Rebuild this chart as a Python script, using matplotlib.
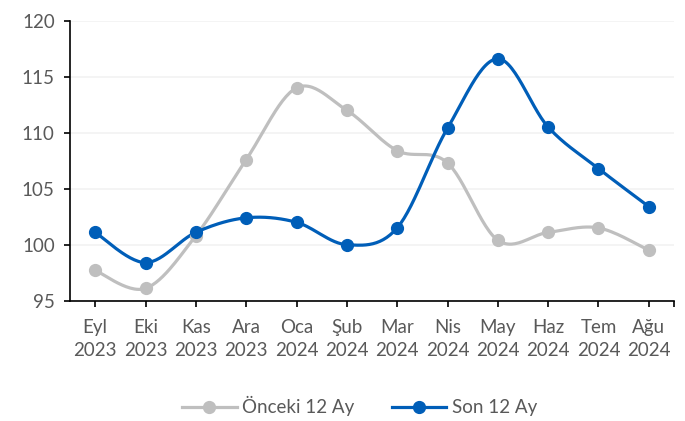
import numpy as np
import matplotlib.pyplot as plt
from matplotlib.lines import Line2D

months = ["Eyl", "Eki", "Kas", "Ara", "Oca", "Şub", "Mar", "Nis", "May", "Haz", "Tem", "Ağu"]
years = ["2023", "2023", "2023", "2023", "2024", "2024", "2024", "2024", "2024", "2024", "2024", "2024"]
prev_12 = [97.7, 96.1, 100.8, 107.6, 114.0, 112.0, 108.4, 107.3, 100.4, 101.1, 101.5, 99.5]
last_12 = [101.1, 98.4, 101.1, 102.4, 102.0, 100.0, 101.5, 110.4, 116.6, 110.5, 106.8, 103.4]

GRAY = "#BFBFBF"
BLUE = "#005EB8"
TEXT = "#595959"


def smooth(xs, ys, n=30):
    # catmull-rom style bezier, like excel's smoothed lines
    xs = np.asarray(xs, float)
    ys = np.asarray(ys, float)
    px = np.concatenate([[xs[0]], xs, [xs[-1]]])
    py = np.concatenate([[ys[0]], ys, [ys[-1]]])
    outx, outy = [], []
    t = np.linspace(0, 1, n)
    for i in range(1, len(px) - 2):
        p0 = np.array([px[i], py[i]])
        p3 = np.array([px[i + 1], py[i + 1]])
        c1 = p0 + (p3 - np.array([px[i - 1], py[i - 1]])) / 6
        c2 = p3 - (np.array([px[i + 2], py[i + 2]]) - p0) / 6
        b = ((1 - t) ** 3)[:, None] * p0 + (3 * (1 - t) ** 2 * t)[:, None] * c1 \
            + (3 * (1 - t) * t ** 2)[:, None] * c2 + (t ** 3)[:, None] * p3
        outx.extend(b[:, 0])
        outy.extend(b[:, 1])
    return outx, outy


plt.rcParams["font.family"] = ["Lato", "DejaVu Sans"]

fig = plt.figure(figsize=(6.85, 4.21), dpi=100)
ax = fig.add_axes([70 / 685, 1 - 300.7 / 421, 604 / 685, 280 / 421])

x = np.arange(len(months))
for vals, col in [(prev_12, GRAY), (last_12, BLUE)]:
    sx, sy = smooth(x, vals)
    ax.plot(sx, sy, color=col, lw=2.3, solid_capstyle="round", zorder=3)
    ax.plot(x, vals, "o", color=col, ms=8.5, zorder=4)

ax.set_xlim(-0.5, 11.5)
ax.set_ylim(95, 120)
ax.set_yticks(range(95, 121, 5))
ax.set_xticks(list(x) + [11.5])
ax.set_xticklabels([f"{m}\n{y}" for m, y in zip(months, years)] + [""])
ax.grid(axis="y", color="#F2F2F2", lw=1.2, zorder=0)
ax.set_axisbelow(True)

for side in ["top", "right"]:
    ax.spines[side].set_visible(False)
for side in ["left", "bottom"]:
    ax.spines[side].set_color("black")
    ax.spines[side].set_linewidth(1.2)
ax.tick_params(axis="both", direction="out", length=4, width=1.2, color="black",
               labelcolor=TEXT, labelsize=13.5)
ax.tick_params(axis="x", pad=9)
ax.tick_params(axis="y", pad=7)
for lbl in ax.get_xticklabels():
    lbl.set_linespacing(1.45)

handles = [
    Line2D([], [], color=GRAY, lw=2.3, marker="o", ms=8.5),
    Line2D([], [], color=BLUE, lw=2.3, marker="o", ms=8.5),
]
fig.legend(handles, ["Önceki 12 Ay", "Son 12 Ay"], loc="center", bbox_to_anchor=(0.525, 1 - 406 / 421),
           ncol=2, frameon=False, fontsize=13.5, labelcolor=TEXT, handlelength=2.9,
           handletextpad=0.3, columnspacing=2.0)

fig.savefig("out.png", dpi=100)
